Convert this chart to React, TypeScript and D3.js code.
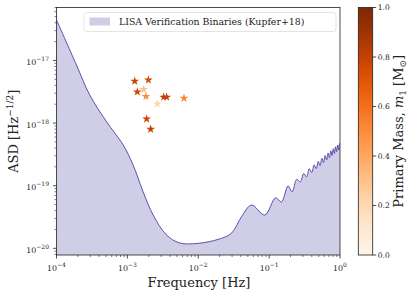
import React from 'react';
import * as d3 from 'd3';

// LISA sensitivity curve
const curveFreq = [
  1e-4, 1.91e-4, 2.94e-4, 5.06e-4, 8.7e-4, 1.2e-3, 1.66e-3, 2.3e-3, 3.54e-3, 5.45e-3,
  1e-2, 1.91e-2, 2.94e-2, 4.07e-2, 5.64e-2, 8.7e-2, 0.123, 0.149, 0.185, 0.211, 0.245,
  0.276, 0.307, 0.338, 0.369, 0.4, 0.431, 0.462, 0.493, 0.524, 0.555, 0.586, 0.617,
  0.648, 0.679, 0.71, 0.741, 0.772, 0.803, 0.834, 0.865, 0.896, 0.927, 0.958, 0.989, 1.0,
];
const curveAsd = [
  4.45e-17, 8.5e-18, 2.82e-18, 1.06e-18, 4.5e-19, 2.16e-19, 8.1e-20, 3.44e-20, 1.65e-20, 1.22e-20,
  1.2e-20, 1.39e-20, 1.74e-20, 3.19e-20, 4.9e-20, 3.4e-20, 6.4e-20, 5.5e-20, 9.9e-20, 8.0e-20, 1.26e-19,
  1.15e-19, 1.56e-19, 1.39e-19, 1.86e-19, 1.63e-19, 2.15e-19, 1.87e-19, 2.44e-19, 2.1e-19, 2.74e-19, 2.34e-19, 3.03e-19,
  2.58e-19, 3.31e-19, 2.8e-19, 3.6e-19, 3.04e-19, 3.89e-19, 3.27e-19, 4.17e-19, 3.5e-19, 4.46e-19, 3.73e-19, 4.73e-19, 4.6e-19,
];

// verification binaries
const starFreq = [1.27e-3, 1.98e-3, 1.38e-3, 1.7e-3, 1.83e-3, 2.65e-3, 3.25e-3, 3.58e-3, 6.29e-3, 1.87e-3, 2.13e-3];
const starAsd = [4.68e-18, 4.9e-18, 3.15e-18, 3.44e-18, 2.67e-18, 2.03e-18, 2.6e-18, 2.6e-18, 2.5e-18, 1.16e-18, 8.0e-19];
const starMass = [0.78, 0.75, 0.76, 0.3, 0.5, 0.22, 0.8, 0.8, 0.52, 0.78, 0.8];

const xTickExps = [-4, -3, -2, -1, 0];
const yTickExps = [-20, -19, -18, -17];
const cbarTicks = [0, 0.2, 0.4, 0.6, 0.8, 1.0];

const FONT = 'DejaVu Serif';
const LINE = '#4a3fa6';
const FILL = '#d0cde6';

const L = 56.5, R = 340, T = 7.5, B = 255;
const CB = { x0: 358.3, x1: 372.7 };

function minorTicks(lo: number, hi: number) {
  const out: number[] = [];
  for (let e = Math.floor(Math.log10(lo)); e <= Math.ceil(Math.log10(hi)); e++) {
    for (let m = 2; m <= 9; m++) {
      const v = m * Math.pow(10, e);
      if (v >= lo && v <= hi) out.push(v);
    }
  }
  return out;
}

const Pow = ({ e, x, y, anchor }: { e: number; x: number; y: number; anchor: string }) => (
  <text x={x} y={y} fontFamily={FONT} fontSize={7.9} textAnchor={anchor} fill="#222">
    10<tspan fontSize={6} dy={-3.8}>{e < 0 ? `\u2212${-e}` : `${e}`}</tspan>
  </text>
);

export default function App() {
  const x = d3.scaleLog().domain([1e-4, 1]).range([L, R]);
  const y = d3.scaleLog().domain([Math.pow(10, -20.107), Math.pow(10, -16.154)]).range([B, T]);
  const c = d3.scaleLinear().domain([0, 1]).range([B, T]);

  const pts = curveFreq.map((f, i) => [x(f), y(curveAsd[i])] as [number, number]);
  const area = d3.area<[number, number]>().x(d => d[0]).y0(B).y1(d => d[1]).curve(d3.curveCatmullRom);
  const line = d3.line<[number, number]>().x(d => d[0]).y(d => d[1]).curve(d3.curveCatmullRom);
  const star = d3.symbol().type(d3.symbolStar).size(24)();

  const yMinor = minorTicks(y.domain()[0], y.domain()[1]);
  const xMinor = minorTicks(1e-4, 1);
  const stops = d3.range(0, 1.0001, 0.05);

  return (
    <svg width={415} height={294} style={{ position: 'absolute', left: 0, top: 0, background: '#fff' }}>
      <defs>
        <clipPath id="plot"><rect x={L} y={T} width={R - L} height={B - T} /></clipPath>
        <linearGradient id="oranges" x1="0" y1="1" x2="0" y2="0">
          {stops.map(s => <stop key={s} offset={s} stopColor={d3.interpolateOranges(s)} />)}
        </linearGradient>
      </defs>

      <g clipPath="url(#plot)">
        <path d={area(pts) || ''} fill={FILL} />
        <path d={line(pts) || ''} fill="none" stroke={LINE} strokeWidth={0.9} />
        {starFreq.map((f, i) => (
          <path key={i} d={star || ''} transform={`translate(${x(f)},${y(starAsd[i])})`}
            fill={d3.interpolateOranges(starMass[i])} />
        ))}
      </g>

      {/* legend */}
      <rect x={84} y={12.5} width={252} height={19} rx={2.5} fill="#fff" fillOpacity={0.8} stroke="#ddd" strokeWidth={0.8} />
      <rect x={89.5} y={17.5} width={20.5} height={8} fill={FILL} />
      <text x={119} y={25.3} fontFamily={FONT} fontSize={9.4} fill="#222">LISA Verification Binaries (Kupfer+18)</text>

      {/* axes frame */}
      <rect x={L} y={T} width={R - L} height={B - T} fill="none" stroke="#222" strokeWidth={0.8} />

      {/* x ticks */}
      {xMinor.map(v => <line key={'xm' + v} x1={x(v)} x2={x(v)} y1={B} y2={B + 2} stroke="#222" strokeWidth={0.6} />)}
      {xTickExps.map(e => (
        <g key={'x' + e}>
          <line x1={x(Math.pow(10, e))} x2={x(Math.pow(10, e))} y1={B} y2={B + 3.5} stroke="#222" strokeWidth={0.8} />
          <Pow e={e} x={x(Math.pow(10, e))} y={271} anchor="middle" />
        </g>
      ))}

      {/* y ticks */}
      {yMinor.map(v => <line key={'ym' + v} x1={L - 2} x2={L} y1={y(v)} y2={y(v)} stroke="#222" strokeWidth={0.6} />)}
      {yTickExps.map(e => (
        <g key={'y' + e}>
          <line x1={L - 3.5} x2={L} y1={y(Math.pow(10, e))} y2={y(Math.pow(10, e))} stroke="#222" strokeWidth={0.8} />
          <Pow e={e} x={L - 7.5} y={y(Math.pow(10, e)) + 4.5} anchor="end" />
        </g>
      ))}

      <text x={199} y={287} textAnchor="middle" fontFamily={FONT} fontSize={13} fill="#222">Frequency [Hz]</text>
      <text transform={`translate(18,${(T + B) / 2}) rotate(-90)`} textAnchor="middle" fontFamily={FONT} fontSize={13} fill="#222">
        ASD [Hz<tspan fontSize={9} dy={-5}>{'\u22121/2'}</tspan><tspan dy={5}>]</tspan>
      </text>

      {/* colorbar */}
      <rect x={CB.x0} y={T} width={CB.x1 - CB.x0} height={B - T} fill="url(#oranges)" stroke="#222" strokeWidth={0.8} />
      {cbarTicks.map(t => (
        <g key={'c' + t}>
          <line x1={CB.x1} x2={CB.x1 + 3.5} y1={c(t)} y2={c(t)} stroke="#222" strokeWidth={0.8} />
          <text x={CB.x1 + 5} y={c(t) + 2.6} fontFamily={FONT} fontSize={7.6} fill="#222">{t.toFixed(1)}</text>
        </g>
      ))}
      <text transform={`translate(403,${(T + B) / 2}) rotate(-90)`} textAnchor="middle" fontFamily={FONT} fontSize={13} fill="#222">
        Primary Mass, <tspan fontStyle="italic">m</tspan><tspan fontSize={9} dy={2.5}>1</tspan>
        <tspan dy={-2.5}> [M</tspan><tspan fontSize={9} dy={2.5}>{'\u2299'}</tspan><tspan dy={-2.5}>]</tspan>
      </text>
    </svg>
  );
}
